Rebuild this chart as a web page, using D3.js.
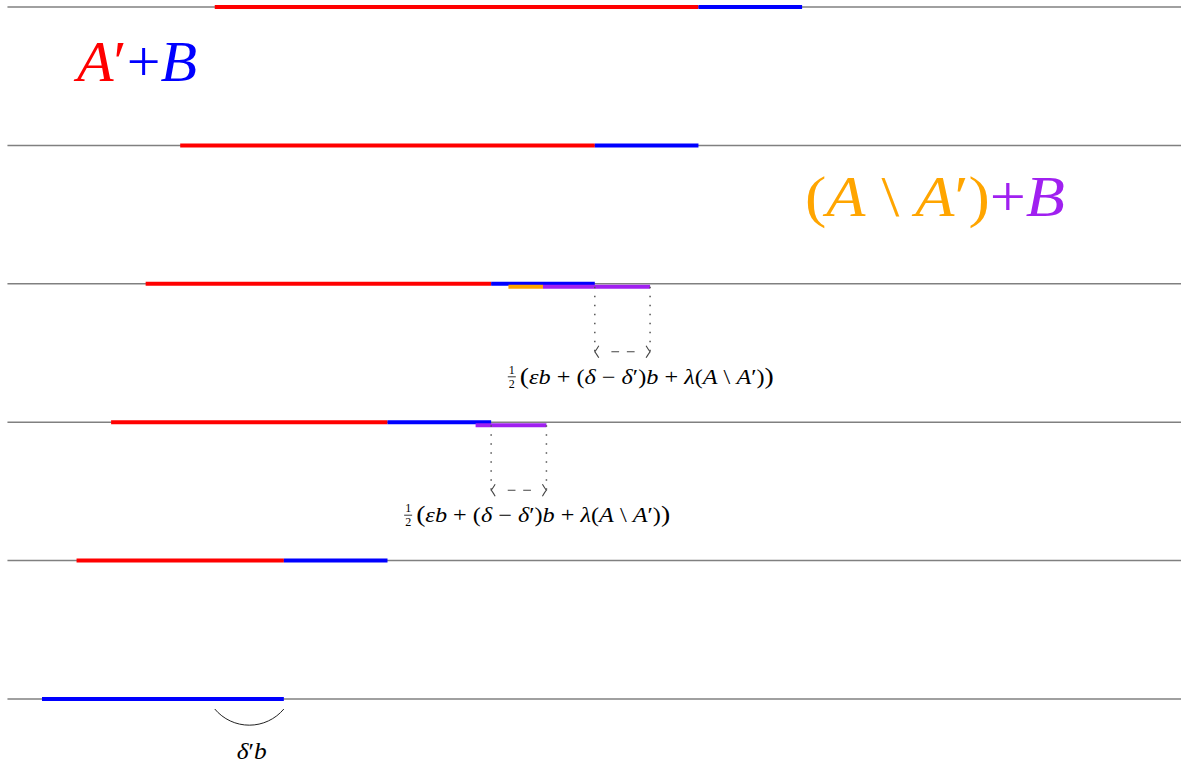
<!DOCTYPE html>
<html>
<head>
<meta charset="utf-8">
<script src="https://cdn.jsdelivr.net/npm/d3@7"></script>
<style>
  html, body { margin: 0; padding: 0; background: #fff; }
  svg { display: block; }
</style>
</head>
<body>
<svg width="1181" height="767"></svg>
<script>
// rows, top to bottom
var rows = [0, 1, 2, 3, 4, 5];
// segments in units along each row: [row, start, end]
var redSegs = [[0, 6, 20], [1, 5, 17], [2, 4, 14], [3, 3, 11], [4, 2, 8]];
var blueSegs = [[0, 20, 23], [1, 17, 20], [2, 14, 17], [3, 11, 14], [4, 8, 11], [5, 1, 8]];
var orangeSegs = [[2, 14.5, 15.5]];
var purpleSegs = [[2, 15.5, 18.6], [3, 13.55, 15.6]];
// half-gap annotations: [row, from, to]
var gapMarks = [[2, 17, 18.6], [3, 14, 15.6]];
// arc under bottom row: [row, from, to]
var arcMarks = [[5, 6, 8]];

var svg = d3.select('svg');

var x = d3.scaleLinear().domain([0, 34]).range([7.45, 7.45 + 34 * 34.55]);
var y = d3.scaleLinear().domain([0, 5]).range([7, 699]);

var serif = '"Liberation Serif", "DejaVu Serif", serif';

// grey base lines
svg.selectAll('line.base')
  .data(rows)
  .enter().append('line')
  .attr('class', 'base')
  .attr('x1', x(0))
  .attr('x2', x(34))
  .attr('y1', function (d) { return y(d); })
  .attr('y2', function (d) { return y(d); })
  .attr('stroke', '#808080')
  .attr('stroke-width', 1.5);

function drawSegs(data, color, offset) {
  svg.selectAll(null)
    .data(data)
    .enter().append('line')
    .attr('x1', function (d) { return x(d[1]); })
    .attr('x2', function (d) { return x(d[2]); })
    .attr('y1', function (d) { return y(d[0]) + offset; })
    .attr('y2', function (d) { return y(d[0]) + offset; })
    .attr('stroke', color)
    .attr('stroke-width', 4);
}

drawSegs(redSegs, 'red', 0);
drawSegs(blueSegs, 'blue', 0);
drawSegs(orangeSegs, 'orange', 3);
drawSegs(purpleSegs, '#a020f0', 3);

// dotted verticals + dashed double arrow
gapMarks.forEach(function (g) {
  var y0 = y(g[0]) + 3, y1 = y(g[0]) + 68;
  var xa = x(g[1]), xb = x(g[2]);
  [xa, xb].forEach(function (xx) {
    svg.append('line')
      .attr('x1', xx).attr('x2', xx)
      .attr('y1', y0).attr('y2', y1)
      .attr('stroke', '#555')
      .attr('stroke-width', 1.5)
      .attr('stroke-dasharray', '1.5,7.5');
  });
  var L = xb - xa;
  svg.append('line')
    .attr('x1', xa).attr('x2', xb)
    .attr('y1', y1).attr('y2', y1)
    .attr('stroke', '#444')
    .attr('stroke-width', 1.1)
    .attr('stroke-dasharray', '0,' + (L * 0.3) + ',' + (L * 0.14) + ',' + (L * 0.14) + ',' + (L * 0.14) + ',' + L);
  svg.append('path')
    .attr('d', 'M' + (xa + 4) + ',' + (y1 - 6) + ' Q' + (xa + 1) + ',' + (y1 - 1) + ' ' + xa + ',' + y1 +
               ' Q' + (xa + 1) + ',' + (y1 + 1) + ' ' + (xa + 4) + ',' + (y1 + 6))
    .attr('fill', 'none').attr('stroke', '#444').attr('stroke-width', 1.1);
  svg.append('path')
    .attr('d', 'M' + (xb - 4) + ',' + (y1 - 6) + ' Q' + (xb - 1) + ',' + (y1 - 1) + ' ' + xb + ',' + y1 +
               ' Q' + (xb - 1) + ',' + (y1 + 1) + ' ' + (xb - 4) + ',' + (y1 + 6))
    .attr('fill', 'none').attr('stroke', '#444').attr('stroke-width', 1.1);

  // formula 1/2( eps b + (delta - delta')b + lambda(A \ A') )
  var tx = xa - 87, ty = y1 + 32;
  svg.append('text').text('1').attr('x', tx + 4).attr('y', ty - 10)
    .attr('font-family', serif).attr('font-size', 12).attr('text-anchor', 'middle');
  svg.append('line').attr('x1', tx).attr('x2', tx + 8).attr('y1', ty - 7).attr('y2', ty - 7)
    .attr('stroke', '#000').attr('stroke-width', 0.8);
  svg.append('text').text('2').attr('x', tx + 4).attr('y', ty + 4)
    .attr('font-family', serif).attr('font-size', 12).attr('text-anchor', 'middle');
  var pieces = [
    ['(', 'n', 24], ['ε', 'i'], ['b', 'i'], [' + (', 'n'], ['δ', 'i'], [' − ', 'n'], ['δ', 'i'], ['′', 'n'],
    [')', 'n'], ['b', 'i'], [' + ', 'n'], ['λ', 'i'], ['(', 'n'], ['A', 'i'], [' \\ ', 'n'], ['A', 'i'],
    ['′', 'n'], [')', 'n'], [')', 'n', 24]
  ];
  var t = svg.append('text').attr('x', tx + 12).attr('y', ty)
    .attr('font-family', serif).attr('font-size', 21).attr('fill', '#000')
    .attr('xml:space', 'preserve')
    .attr('textLength', 254).attr('lengthAdjust', 'spacingAndGlyphs');
  pieces.forEach(function (p) {
    var s = t.append('tspan').text(p[0]).attr('font-style', p[1] === 'i' ? 'italic' : 'normal');
    if (p[2]) s.attr('font-size', p[2]);
  });
});

// arc with label
arcMarks.forEach(function (a) {
  var xa = x(a[1]), xb = x(a[2]), yy = y(a[0]) + 10;
  svg.append('path')
    .attr('d', 'M' + xa + ',' + yy + ' A45,45 0 0,0 ' + xb + ',' + yy)
    .attr('fill', 'none').attr('stroke', '#222').attr('stroke-width', 1);
  var t = svg.append('text').attr('x', xa + 22).attr('y', yy + 50)
    .attr('font-family', serif).attr('font-size', 24)
    .attr('font-style', 'italic')
    .attr('textLength', 30).attr('lengthAdjust', 'spacingAndGlyphs');
  t.append('tspan').text('δ');
  t.append('tspan').text('′').attr('font-style', 'normal');
  t.append('tspan').text('b');
});

// big labels
function bigLabel(px, py, w, parts) {
  var t = svg.append('text').attr('x', px).attr('y', py)
    .attr('font-family', serif).attr('font-size', 58)
    .attr('xml:space', 'preserve')
    .attr('textLength', w).attr('lengthAdjust', 'spacingAndGlyphs');
  parts.forEach(function (p) {
    t.append('tspan').text(p[0]).attr('fill', p[1])
      .attr('font-style', p[2] === 'i' ? 'italic' : 'normal');
  });
}
bigLabel(77, 81, 120, [['A', 'red', 'i'], ['′', 'red', 'n'], ['+', 'blue', 'n'], ['B', 'blue', 'i']]);
bigLabel(805, 216, 260, [['(', 'orange', 'n'], ['A', 'orange', 'i'], [' \\ ', 'orange', 'n'], ['A', 'orange', 'i'],
  ['′', 'orange', 'n'], [')', 'orange', 'n'], ['+', '#a020f0', 'n'], ['B', '#a020f0', 'i']]);
</script>
</body>
</html>
